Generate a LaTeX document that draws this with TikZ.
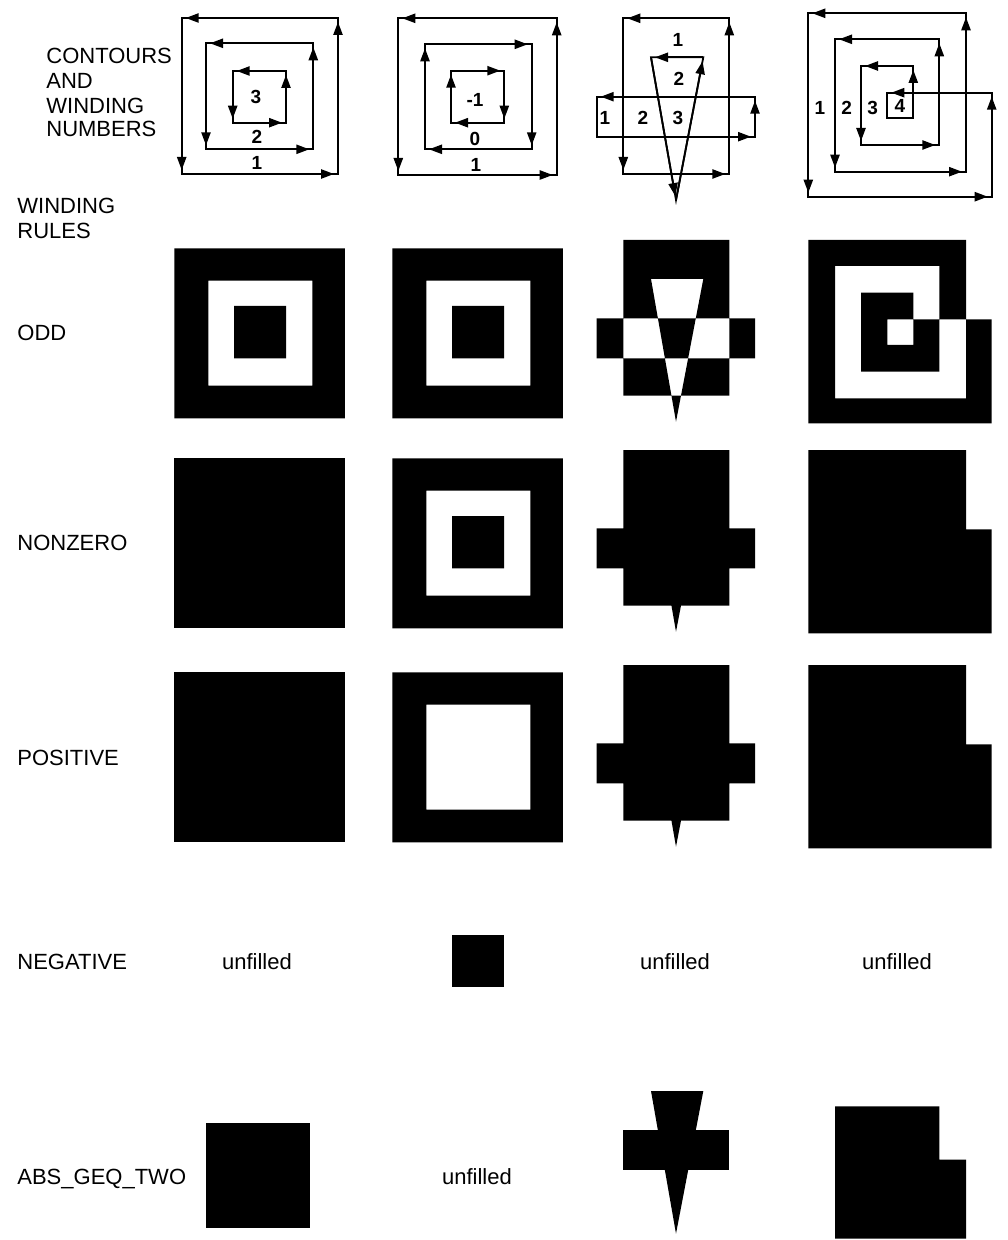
\documentclass[tikz,border=0pt]{standalone}
\usepackage{fontspec}
\setmainfont{Liberation Sans}
\usepackage{tikz}
\usetikzlibrary{arrows.meta}

\tikzset{
	wire/.style={line width=0.9pt, line join=miter},
	seg/.style={wire, -{Triangle[length=6.5pt,width=4.6pt]}, shorten >=2pt},
	wnum/.style={font=\fontsize{9.5}{11}\selectfont\bfseries, inner sep=0pt},
	rowlbl/.style={font=\fontsize{11}{13}\selectfont, anchor=base west, inner sep=0pt},
	nofill/.style={font=\fontsize{11}{13}\selectfont, anchor=base, inner sep=0pt},
}
% square contour: left, top, right, bottom
\newcommand{\ccwloop}[4]{%
	\draw[wire] (#1,#2) rectangle (#3,#4);
	\draw[seg] (#1,#4) -- (#3,#4);
	\draw[seg] (#3,#4) -- (#3,#2);
	\draw[seg] (#3,#2) -- (#1,#2);
	\draw[seg] (#1,#2) -- (#1,#4);}
\newcommand{\cwloop}[4]{%
	\draw[wire] (#1,#2) rectangle (#3,#4);
	\draw[seg] (#1,#2) -- (#3,#2);
	\draw[seg] (#3,#2) -- (#3,#4);
	\draw[seg] (#3,#4) -- (#1,#4);
	\draw[seg] (#1,#4) -- (#1,#2);}
% filled outlines, all counterclockwise
\def\crossshape{(623.3,174) -- (729.3,174) -- (729.3,18.3) -- (623.3,18.3) -- cycle
	(596.7,136.7) -- (755,136.7) -- (755,96.7) -- (596.7,96.7) -- cycle
	(703.3,57.3) -- (651,57.3) -- (676,200) -- cycle}
\def\spiralshape{(808.3,13.3) -- (808.3,196.7) -- (991.7,196.7) -- (991.7,92.7) -- (887.3,92.7)
	-- (887.3,118.3) -- (913.3,118.3) -- (913.3,66) -- (861,66) -- (861,145) -- (939.3,145)
	-- (939.3,39.3) -- (835,39.3) -- (835,171.7) -- (966,171.7) -- (966,13.3) -- cycle}

\begin{document}
\begin{tikzpicture}[x=0.5pt, y=-0.5pt]
	\useasboundingbox (0,0) rectangle (1007,1240);
	% Row labels
	\node[rowlbl] (hdA) at (46,63.3) {CONTOURS};
	\node[rowlbl] (hdB) at (46,88.3) {AND};
	\node[rowlbl] (hdC) at (46,113.3) {WINDING};
	\node[rowlbl] (hdD) at (46,137) {NUMBERS};
	\node[rowlbl] (ruleA) at (17,214) {WINDING};
	\node[rowlbl] (ruleB) at (17,239) {RULES};
	\node[rowlbl] (odd) at (17,340.5) {ODD};
	\node[rowlbl] (nonzero) at (17,550.5) {NONZERO};
	\node[rowlbl] (positive) at (17,765.5) {POSITIVE};
	\node[rowlbl] (negative) at (17,969.5) {NEGATIVE};
	\node[rowlbl] (absgeq) at (17,1184.5) {ABS\_GEQ\_TWO};
	% Contours, nested squares
	\ccwloop{181.7}{18}{338}{174}
	\ccwloop{206}{43.3}{313.3}{149.3}
	\ccwloop{232.7}{71}{286}{122.7}
	\node[wnum] (wa3) at (256,97) {3};
	\node[wnum] (wa2) at (257,137) {2};
	\node[wnum] (wa1) at (257,163) {1};
	% Contours, mixed direction
	\ccwloop{398.3}{18.3}{556.7}{175}
	\cwloop{425}{44.3}{531.7}{149.3}
	\cwloop{451}{70.7}{504.3}{122.7}
	\node[wnum] (wbm) at (475,100) {-1};
	\node[wnum] (wb0) at (475,139) {0};
	\node[wnum] (wb1) at (476,165) {1};
	% Contours, rectangles and triangle
	\ccwloop{623.3}{18.3}{729.3}{174}
	\draw[wire] (596.7,96.7) rectangle (755,136.7);
	\draw[seg] (596.7,136.7) -- (755,136.7);
	\draw[seg] (755,136.7) -- (755,96.7);
	\draw[seg] (755,96.7) -- (596.7,96.7);
	\draw[wire] (703.3,57.3) -- (651,57.3) -- (676,200) -- cycle;
	\draw[seg] (703.3,57.3) -- (651,57.3);
	\draw[seg] (651,57.3) -- (676,200);
	\draw[seg] (676,200) -- (703.3,57.3);
	\node[wnum] (wc1) at (678,40) {1};
	\node[wnum] (wc2) at (679,79) {2};
	\node[wnum] (wcl1) at (605,118) {1};
	\node[wnum] (wcl2) at (643,118) {2};
	\node[wnum] (wcl3) at (678,118) {3};
	% Contours, spiral
	\draw[wire] \spiralshape;
	\foreach \xa/\ya/\xb/\yb in {808.3/13.3/808.3/196.7, 808.3/196.7/991.7/196.7, 991.7/196.7/991.7/92.7,
		991.7/92.7/887.3/92.7, 913.3/118.3/913.3/66, 913.3/66/861/66, 861/66/861/145, 861/145/939.3/145,
		939.3/145/939.3/39.3, 939.3/39.3/835/39.3, 835/39.3/835/171.7, 835/171.7/966/171.7,
		966/171.7/966/13.3, 966/13.3/808.3/13.3}
		\draw[seg] (\xa,\ya) -- (\xb,\yb);
	\node[wnum] (wd1) at (820,108) {1};
	\node[wnum] (wd2) at (846.7,108) {2};
	\node[wnum] (wd3) at (872.7,108) {3};
	\node[wnum] (wd4) at (900,106) {4};
	% ODD
	\fill[even odd rule, shift={(174.3,248.3)}] (0,0) rectangle (170.5,170) (34,32.4) rectangle (138,137.4) (59.7,57.7) rectangle (111.7,110);
	\fill[even odd rule, shift={(392.3,248.3)}] (0,0) rectangle (170.5,170) (34,32.4) rectangle (138,137.4) (59.7,57.7) rectangle (111.7,110);
	\fill[even odd rule, shift={(0,221.7)}] \crossshape;
	\fill[even odd rule, shift={(0,226.7)}] \spiralshape;
	% NONZERO
	\fill[shift={(174.3,458.3)}] (0,0) rectangle (170.5,170);
	\fill[even odd rule, shift={(392.3,458.3)}] (0,0) rectangle (170.5,170) (34,32.4) rectangle (138,137.4) (59.7,57.7) rectangle (111.7,110);
	\fill[nonzero rule, shift={(0,431.7)}] \crossshape;
	\fill[nonzero rule, shift={(0,436.7)}] \spiralshape;
	% POSITIVE
	\fill[shift={(174.3,672.3)}] (0,0) rectangle (170.5,170);
	\fill[even odd rule, shift={(392.3,672.3)}] (0,0) rectangle (170.5,170) (34,32.4) rectangle (138,137.4);
	\fill[nonzero rule, shift={(0,646.7)}] \crossshape;
	\fill[nonzero rule, shift={(0,651.7)}] \spiralshape;
	% NEGATIVE
	\node[nofill] (negA) at (257,969.5) {unfilled};
	\fill[shift={(392.3,877.3)}] (59.7,57.7) rectangle (111.7,110);
	\node[nofill] (negC) at (675,969.5) {unfilled};
	\node[nofill] (negD) at (897,969.5) {unfilled};
	% ABS_GEQ_TWO
	\fill[shift={(172,1090.3)}] (34,32.4) rectangle (138,137.4);
	\node[nofill] (absB) at (477,1184.5) {unfilled};
	\fill[shift={(0,1033.7)}] (623.3,96.7) rectangle (729.3,136.7);
	\fill[shift={(0,1033.7)}] (703.3,57.3) -- (651,57.3) -- (676,200) -- cycle;
	\fill[shift={(0,1067)}] (835,39.3) -- (939.3,39.3) -- (939.3,92.7) -- (966,92.7) -- (966,171.7) -- (835,171.7) -- cycle;
\end{tikzpicture}
\end{document}
